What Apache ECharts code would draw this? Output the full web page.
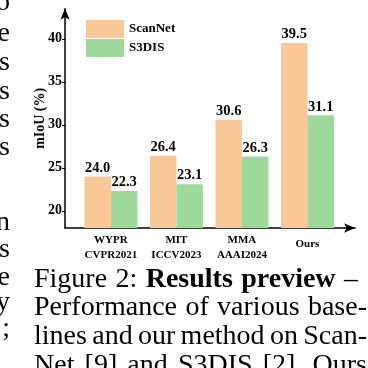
<!DOCTYPE html>
<html>
<head>
<meta charset="utf-8">
<script src="https://cdn.jsdelivr.net/npm/echarts@6/dist/echarts.min.js"></script>
<style>
  html, body { margin: 0; padding: 0; background: #fff; }
  #chart { width: 368px; height: 368px; }
</style>
</head>
<body>
<div id="chart"></div>
<script>
const categories = ['WYPR\nCVPR2021', 'MIT\nICCV2023', 'MMA\nAAAI2024', 'Ours'];
const scannet = [24.0, 26.4, 30.6, 39.5];
const s3dis = [22.3, 23.1, 26.3, 31.1];
const yTicks = [20, 25, 30, 35, 40];
const xTicks = [1, 2, 3, 4];

// caption under the figure, and the cut-off line ends of the column on the left
const captionLines = [
  ['Figure', '2:', 'Results', 'preview', '–'],
  ['Performance', 'of', 'various', 'base-'],
  ['lines', 'and', 'our', 'method', 'on', 'Scan-'],
  ['Net', '[9]', 'and', 'S3DIS', '[2].', 'Ours']
];
const boldWords = ['Results', 'preview'];
const leftFragments = ['o', 'e', 's', 's', 's', 's', 'n', 's', 'e', 'y', ';'];

const serif = 'Liberation Serif, Times New Roman, serif';
const captionSize = 28;
const captionLeft = 34;
const captionRight = [358, 367, 367, 367];
const captionBase = [289, 317, 346, 375];
const fragmentBase = [12, 43, 72, 101, 129, 157, 232, 259, 287, 312, 338];

const measureCtx = document.createElement('canvas').getContext('2d');
function textWidth(str, bold) {
  measureCtx.font = (bold ? 'bold ' : '') + captionSize + 'px ' + serif;
  return measureCtx.measureText(str).width;
}

function buildTexts() {
  const out = [];
  const mid = captionSize * 0.34;
  captionLines.forEach((words, i) => {
    const widths = words.map(w => textWidth(w, boldWords.includes(w)));
    const total = widths.reduce((a, b) => a + b, 0);
    const gap = (captionRight[i] - captionLeft - total) / (words.length - 1);
    let x = captionLeft;
    words.forEach((w, j) => {
      out.push({
        type: 'text',
        x: x,
        y: captionBase[i] - mid,
        style: {
          text: w,
          fill: '#000',
          font: (boldWords.includes(w) ? 'bold ' : '') + captionSize + 'px ' + serif,
          textAlign: 'left',
          textVerticalAlign: 'middle'
        }
      });
      x += widths[j] + gap;
    });
  });
  leftFragments.forEach((ch, i) => {
    out.push({
      type: 'text',
      x: 10,
      y: fragmentBase[i] - mid,
      style: {
        text: ch,
        fill: '#000',
        font: captionSize + 'px ' + serif,
        textAlign: 'right',
        textVerticalAlign: 'middle'
      }
    });
  });
  return out;
}

const myChart = echarts.init(document.getElementById('chart'));

const barLabel = {
  show: true,
  position: 'top',
  distance: 1,
  color: '#000',
  fontFamily: serif,
  fontWeight: 'bold',
  fontSize: 14.5,
  formatter: function (p) {
    return p.value[1].toFixed(1);
  }
};

const option = {
  animation: false,
  textStyle: { fontFamily: serif },
  grid: {
    left: 65,
    right: 13,
    top: 8.7,
    bottom: 140
  },
  legend: {
    orient: 'vertical',
    left: 81,
    top: 15,
    itemWidth: 38,
    itemHeight: 18,
    itemGap: 1,
    icon: 'rect',
    textStyle: {
      fontFamily: serif,
      fontWeight: 'bold',
      fontSize: 13,
      color: '#000'
    },
    data: ['ScanNet', 'S3DIS']
  },
  xAxis: {
    type: 'value',
    min: 0.3,
    max: 4.725,
    splitLine: { show: false },
    axisTick: { show: false },
    axisLine: {
      show: true,
      symbol: ['none', 'arrow'],
      symbolSize: [7, 11],
      lineStyle: { color: '#000', width: 1.5 }
    },
    axisLabel: {
      customValues: xTicks,
      margin: 5,
      color: '#000',
      fontFamily: serif,
      fontWeight: 'bold',
      fontSize: 11,
      lineHeight: 15,
      formatter: function (v) {
        const name = categories[Math.round(v) - 1];
        return name.indexOf('\n') < 0 ? '{one|' + name + '}' : name;
      },
      rich: {
        one: {
          fontFamily: serif,
          fontWeight: 'bold',
          fontSize: 11,
          color: '#000',
          padding: [8, 0, 0, 0]
        }
      }
    }
  },
  yAxis: {
    type: 'value',
    min: 18,
    max: 43.5,
    name: 'mIoU (%)',
    nameLocation: 'middle',
    nameGap: 18,
    nameRotate: 90,
    nameMoveOverlap: false,
    nameTextStyle: {
      fontFamily: serif,
      fontWeight: 'bold',
      fontSize: 14,
      color: '#000'
    },
    splitLine: { show: false },
    axisLine: {
      show: true,
      symbol: ['none', 'arrow'],
      symbolSize: [7, 11],
      lineStyle: { color: '#000', width: 1.5 }
    },
    axisTick: {
      show: true,
      inside: false,
      length: 3,
      customValues: yTicks,
      lineStyle: { color: '#000', width: 1 }
    },
    axisLabel: {
      customValues: yTicks,
      margin: 3,
      color: '#000',
      fontFamily: serif,
      fontWeight: 'bold',
      fontSize: 14
    }
  },
  series: [
    {
      name: 'ScanNet',
      type: 'bar',
      barWidth: 26.5,
      barGap: '0%',
      itemStyle: { color: '#FAC796' },
      label: barLabel,
      data: scannet.map((v, i) => [xTicks[i], v])
    },
    {
      name: 'S3DIS',
      type: 'bar',
      barWidth: 26.5,
      barGap: '0%',
      itemStyle: { color: '#9ED89B' },
      label: barLabel,
      data: s3dis.map((v, i) => [xTicks[i], v])
    }
  ],
  graphic: buildTexts()
};
myChart.setOption(option);
</script>
</body>
</html>
